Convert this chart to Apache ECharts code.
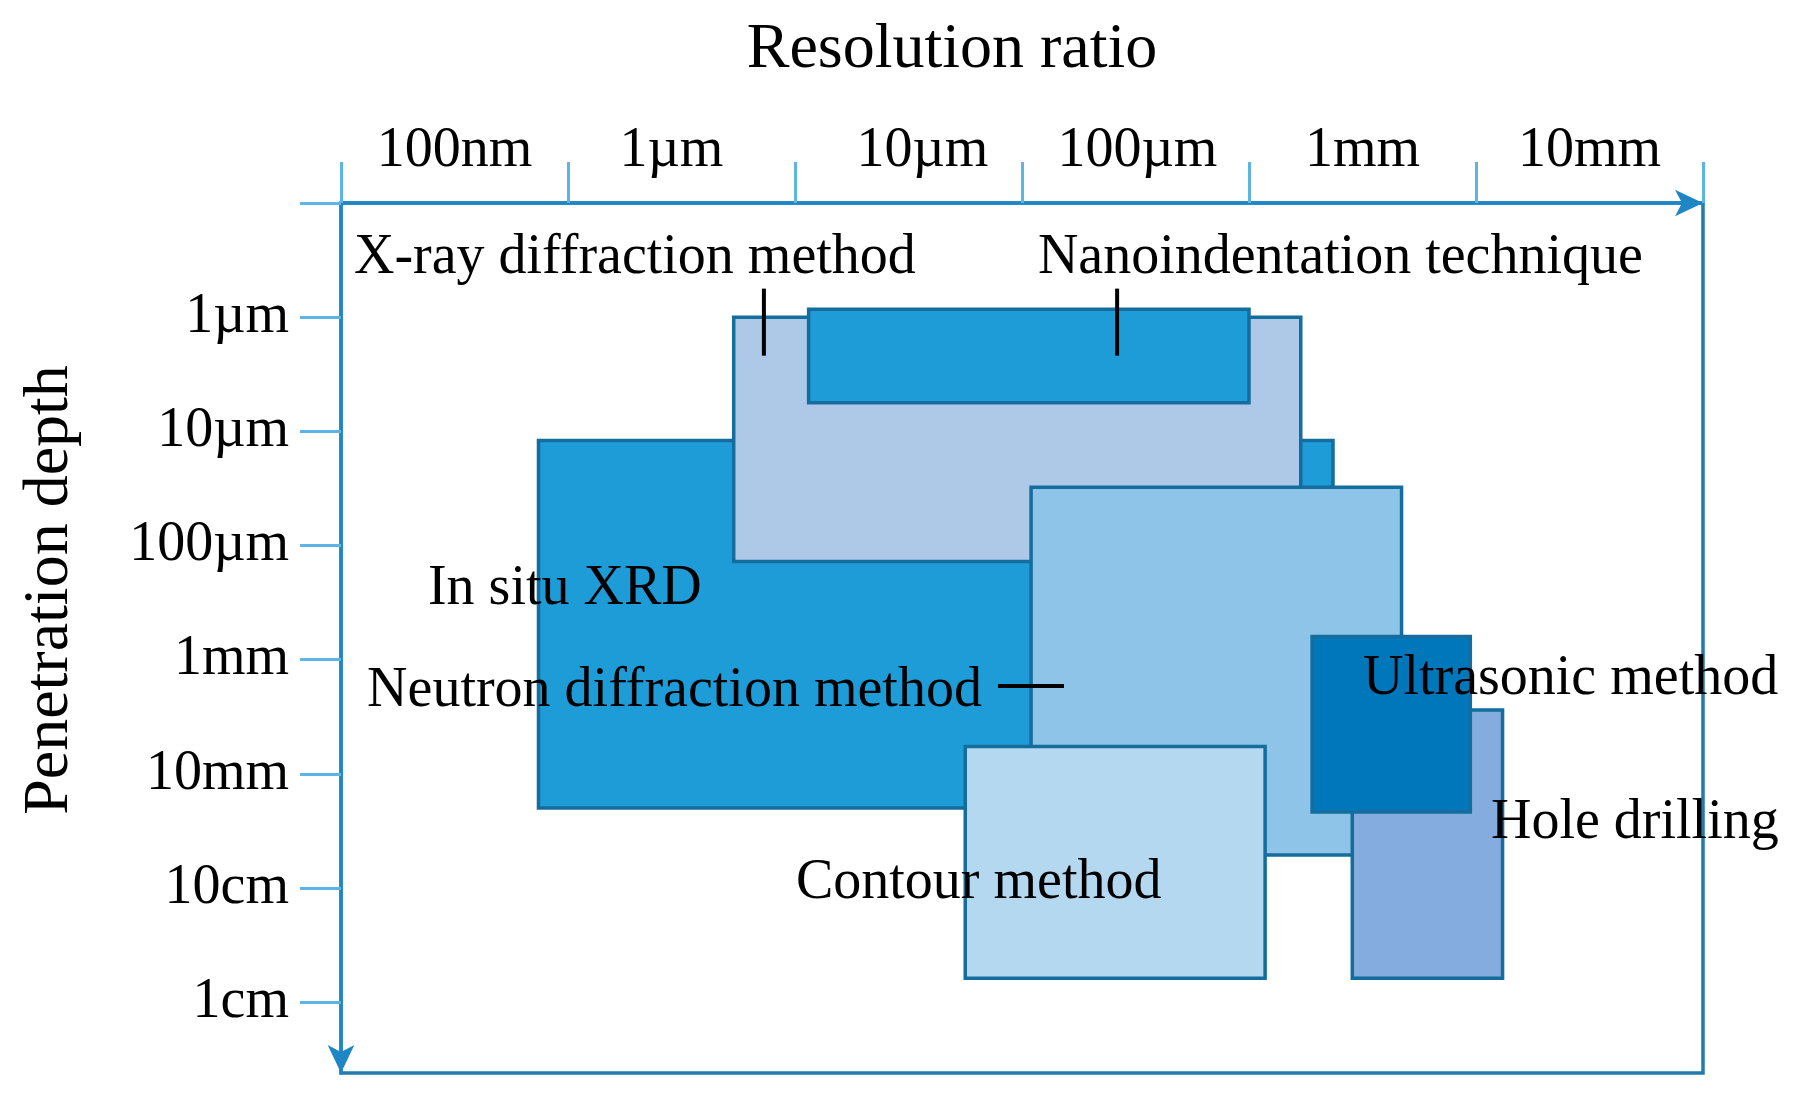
<!DOCTYPE html>
<html>
<head>
<meta charset="utf-8">
<script src="https://cdn.jsdelivr.net/npm/echarts@6/dist/echarts.min.js"></script>
<style>html,body{margin:0;padding:0;background:#fff}#chart{width:1798px;height:1106px}</style>
</head>
<body>
<div id="chart"></div>
<script>
// Axis tick labels
const resolutionBins = ['100nm', '1µm', '10µm', '100µm', '1mm', '10mm'];
const depthTicks = ['1µm', '10µm', '100µm', '1mm', '10mm', '10cm', '1cm'];

// Methods (drawn back to front), ranges in axis units (one unit per decade)
const methods = ['In situ XRD', 'X-ray diffraction method', 'Nanoindentation technique',
  'Neutron diffraction method', 'Contour method', 'Hole drilling', 'Ultrasonic method'];
const resFrom   = [0.87, 1.73, 2.06, 3.04, 2.75, 4.455, 4.278];
const resTo     = [4.37, 4.228, 4.0, 4.672, 4.071, 5.117, 4.975];
const depthFrom = [1.08, 0.0, -0.07, 1.49, 3.76, 3.44, 2.797];
const depthTo   = [4.30, 2.14, 0.75, 4.71, 5.79, 5.79, 4.334];

// Label anchors (left edge, vertical middle) and leader lines
const labelX = [0.383, 0.057, 3.07, 0.115, 2.004, 5.066, 4.502];
const labelY = [2.385, -0.515, -0.515, 3.28, 4.96, 4.435, 3.175];
const leaders = [
  [1.863, -0.25, 1.863, 0.337],
  [3.419, -0.25, 3.419, 0.337],
  [2.894, 3.23, 3.185, 3.23]
];

const boxColors = ['#1e9cd8', '#aec8e8', '#1e9cd8', '#8ec4e7', '#b5d8f1', '#85acdf', '#0077bb'];
const FONT = '"Liberation Serif", "Times New Roman", serif';

const chart = echarts.init(document.getElementById('chart'));
const option = {
  animation: false,
  grid: {
    left: 341, right: 95, top: 203, bottom: 33,
    show: true, borderColor: '#2379b0', borderWidth: 3.5,
    containLabel: false, outerBoundsMode: 'none'
  },
  xAxis: [
    {
      type: 'category', position: 'top', data: resolutionBins, boundaryGap: true,
      axisLine: { show: true, onZero: false, lineStyle: { color: '#1f86c6', width: 3.5 }, symbol: ['none', 'arrow'], symbolSize: [20, 28] },
      axisTick: { show: true, interval: 0, length: 41, lineStyle: { color: '#5db4e6', width: 3 } },
      axisLabel: {
        interval: 0, hideOverlap: false,
        fontFamily: FONT, fontSize: 56, color: '#000', margin: 24,
        formatter: function (v, i) { return '{l' + i + '|' + v + '}'; },
        rich: {
          l0: { fontFamily: FONT, fontSize: 56, color: '#000' },
          l1: { fontFamily: FONT, fontSize: 56, color: '#000', padding: [0, 20, 0, 0] },
          l2: { fontFamily: FONT, fontSize: 56, color: '#000', padding: [0, 0, 0, 28] },
          l3: { fontFamily: FONT, fontSize: 56, color: '#000', padding: [0, 0, 0, 4] },
          l4: { fontFamily: FONT, fontSize: 56, color: '#000' },
          l5: { fontFamily: FONT, fontSize: 56, color: '#000' }
        }
      },
      splitLine: { show: false }
    },
    { type: 'value', min: 0, max: 6, show: false, splitLine: { show: false } }
  ],
  yAxis: {
    type: 'value', inverse: true, min: -1, max: 6.62, interval: 1,
    axisLine: { show: true, onZero: false, lineStyle: { color: '#1f86c6', width: 3.5 }, symbol: ['arrow', 'none'], symbolSize: [20, 28] },
    axisTick: { show: true, length: 41, lineStyle: { color: '#5db4e6', width: 3 }, customValues: [-1, 0, 1, 2, 3, 4, 5, 6] },
    axisLabel: {
      fontFamily: FONT, fontSize: 56, color: '#000', margin: 52,
      customValues: [0, 1, 2, 3, 4, 5, 6],
      formatter: function (v) {
        const r = Math.round(v);
        return (Math.abs(v - r) < 1e-6 && r >= 0 && r < depthTicks.length) ? depthTicks[r] : '';
      }
    },
    splitLine: { show: false }
  },
  graphic: [
    { type: 'text', x: 952, y: 50, style: { text: 'Resolution ratio', font: '64px ' + FONT, fill: '#000', align: 'center', verticalAlign: 'middle' } },
    { type: 'text', x: 50, y: 590, rotation: Math.PI / 2, style: { text: 'Penetration depth', font: '64px ' + FONT, fill: '#000', align: 'center', verticalAlign: 'middle' } }
  ],
  series: [
    {
      type: 'custom', xAxisIndex: 1, yAxisIndex: 0, clip: false, z: 2,
      data: methods.map((m, i) => [resFrom[i], resTo[i], depthFrom[i], depthTo[i], i]),
      encode: { x: [0, 1], y: [2, 3] },
      renderItem: function (params, api) {
        const p0 = api.coord([api.value(0), api.value(2)]);
        const p1 = api.coord([api.value(1), api.value(3)]);
        return {
          type: 'rect',
          shape: { x: Math.min(p0[0], p1[0]), y: Math.min(p0[1], p1[1]), width: Math.abs(p1[0] - p0[0]), height: Math.abs(p1[1] - p0[1]) },
          style: { fill: boxColors[api.value(4)], stroke: '#146d9c', lineWidth: 3.5 }
        };
      }
    },
    {
      type: 'custom', xAxisIndex: 1, yAxisIndex: 0, clip: false, z: 3,
      data: leaders,
      encode: { x: [0, 2], y: [1, 3] },
      renderItem: function (params, api) {
        const a = api.coord([api.value(0), api.value(1)]);
        const b = api.coord([api.value(2), api.value(3)]);
        return { type: 'line', shape: { x1: a[0], y1: a[1], x2: b[0], y2: b[1] }, style: { stroke: '#000', lineWidth: 4 } };
      }
    },
    {
      type: 'custom', xAxisIndex: 1, yAxisIndex: 0, clip: false, z: 4,
      data: methods.map((m, i) => [labelX[i], labelY[i], i]),
      encode: { x: 0, y: 1 },
      renderItem: function (params, api) {
        const p = api.coord([api.value(0), api.value(1)]);
        return {
          type: 'text', x: p[0], y: p[1],
          style: { text: methods[api.value(2)], font: '56px ' + FONT, fill: '#000', align: 'left', verticalAlign: 'middle' }
        };
      }
    }
  ]
};
chart.setOption(option);
</script>
</body>
</html>
